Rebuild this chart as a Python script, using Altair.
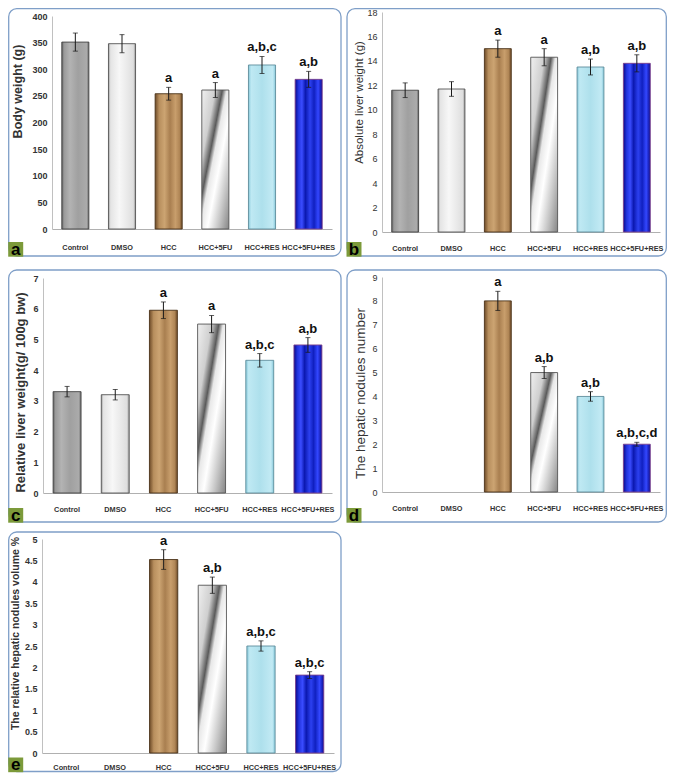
import altair as alt
import pandas as pd

categories = ["Control", "DMSO", "HCC", "HCC+5FU", "HCC+RES", "HCC+5FU+RES"]

body_weight = [351, 348, 254, 261, 308, 281]
body_weight_err = [17, 17, 12, 14, 16, 15]
body_weight_sig = ["", "", "a", "a", "a,b,c", "a,b"]
body_weight_ticks = [0, 50, 100, 150, 200, 250, 300, 350, 400]

abs_liver = [11.6, 11.7, 15.0, 14.3, 13.5, 13.8]
abs_liver_err = [0.6, 0.6, 0.7, 0.7, 0.65, 0.7]
abs_liver_sig = ["", "", "a", "a", "a,b", "a,b"]
abs_liver_ticks = [0, 2, 4, 6, 8, 10, 12, 14, 16, 18]

rel_liver = [3.3, 3.2, 5.95, 5.5, 4.32, 4.82]
rel_liver_err = [0.17, 0.17, 0.27, 0.28, 0.22, 0.24]
rel_liver_sig = ["", "", "a", "a", "a,b,c", "a,b"]
rel_liver_ticks = [0, 1, 2, 3, 4, 5, 6, 7]

nodules = [0, 0, 8.0, 5.0, 4.0, 2.0]
nodules_err = [0, 0, 0.4, 0.25, 0.2, 0.08]
nodules_sig = ["", "", "a", "a,b", "a,b", "a,b,c,d"]
nodules_ticks = [0, 1, 2, 3, 4, 5, 6, 7, 8, 9]

volume = [0, 0, 4.52, 3.92, 2.5, 1.82]
volume_err = [0, 0, 0.23, 0.19, 0.12, 0.08]
volume_sig = ["", "", "a", "a,b", "a,b,c", "a,b,c"]
volume_ticks = [0, 0.5, 1, 1.5, 2, 2.5, 3, 3.5, 4, 4.5, 5]

W, H = 659, 767
SANS = "Liberation Sans, Arial, sans-serif"
BOX_COLOR = "#7f9fc8"
LETTER_BG = "#7c9a3a"


def grad(stops, x1=0, y1=0, x2=1, y2=0):
    return {"gradient": "linear", "x1": x1, "y1": y1, "x2": x2, "y2": y2,
            "stops": [{"offset": o, "color": c} for o, c in stops]}


BAR_STYLE = {
    "Control": (grad([(0, "#5e5e5e"), (0.08, "#9a9a9a"), (0.3, "#b3b3b3"), (0.6, "#a0a0a0"),
                      (0.92, "#ababab"), (1, "#666666")]), "#444444"),
    "DMSO": (grad([(0, "#a0a0a0"), (0.08, "#e4e4e4"), (0.4, "#f7f7f7"), (0.7, "#e9e9e9"),
                   (0.92, "#dedede"), (1, "#939393")]), "#555555"),
    "HCC": (grad([(0, "#6e4b28"), (0.15, "#b88f5e"), (0.35, "#cca472"), (0.55, "#a97f50"),
                  (0.75, "#c89e6c"), (0.9, "#b08656"), (1, "#6e4b28")]), "#4a3218"),
    "HCC+5FU": (grad([(0, "#f0f0f0"), (0.25, "#cfcfcf"), (0.38, "#5a5a5a"), (0.46, "#e8e8e8"),
                      (0.6, "#ffffff"), (0.8, "#c4c4c4"), (1, "#858585")], 0, 0, 1, 1), "#555555"),
    "HCC+RES": (grad([(0, "#86c8da"), (0.1, "#bfe9f3"), (0.5, "#aee0ec"), (0.9, "#c2eaf4"),
                      (1, "#86c8da")]), "#5f8d9c"),
    "HCC+5FU+RES": (grad([(0, "#0a0a8a"), (0.12, "#2233dd"), (0.25, "#3a4cff"), (0.38, "#0b18b0"),
                          (0.55, "#2c40f0"), (0.7, "#1020c0"), (0.85, "#3347ff"), (1, "#0b0b90")]),
                    "#7b3f8c"),
}

# geometry in svg pixels: plot area (x0, x1, ytop, ybottom) and frame box (bx0, by0, bx1, by1)
PANELS = {
    "a": dict(title="Body weight (g)", values=body_weight, errs=body_weight_err, sigs=body_weight_sig,
              ticks=body_weight_ticks, plot=(44, 324, 8, 221), box=(0.7, 0.7, 333, 248),
              tsize=12.5, tbold=True, tx=-35, ty=83, xpad=14, lbold=True),
    "b": dict(title="Absolute liver weight (g)", values=abs_liver, errs=abs_liver_err, sigs=abs_liver_sig,
              ticks=abs_liver_ticks, plot=(374, 652, 4, 224), box=(339, 0.7, 658.3, 248),
              tsize=11.5, tbold=False, tx=-23, ty=94, xpad=12, lbold=False),
    "c": dict(title="Relative liver weight(g/ 100g bw)", values=rel_liver, errs=rel_liver_err,
              sigs=rel_liver_sig, ticks=rel_liver_ticks, plot=(35, 324, 270, 485), box=(0.7, 262, 333, 514),
              tsize=13, tbold=True, tx=-23, ty=384, xpad=12, lbold=True),
    "d": dict(title="The hepatic nodules number", values=nodules, errs=nodules_err, sigs=nodules_sig,
              ticks=nodules_ticks, plot=(374, 652, 269, 484), box=(339, 262, 658.3, 514),
              tsize=13.5, tbold=False, tx=-22, ty=385, xpad=12, lbold=False),
    "e": dict(title="The relative hepatic nodules volume %", values=volume, errs=volume_err,
              sigs=volume_sig, ticks=volume_ticks, plot=(34, 326, 531, 745), box=(0.7, 524, 333, 763.5),
              tsize=10.5, tbold=True, tx=-27, ty=625, xpad=10, lbold=True),
}


def panel(letter):
    p = PANELS[letter]
    x0, x1, yt, yb = p["plot"]
    bx0, by0, bx1, by1 = p["box"]
    df = pd.DataFrame({"cat": categories, "val": p["values"], "err": p["errs"], "sig": p["sigs"]})
    df["lo"] = df["val"] - df["err"]
    df["hi"] = df["val"] + df["err"]
    dfn = df[df["val"] > 0]
    dfs = df[df["sig"] != ""]

    xscale = alt.Scale(domain=categories, range=[x0, x1], paddingInner=0.42, paddingOuter=0.21)
    yscale = alt.Scale(domain=[p["ticks"][0], p["ticks"][-1]], range=[yb, yt], nice=False, zero=True)
    xaxis = alt.Axis(title=None, orient="bottom", offset=yb - H, labelAngle=0, labelFont=SANS,
                     labelFontSize=7.3, labelFontWeight="bold", labelColor="#333333",
                     labelPadding=p["xpad"], ticks=False, domainColor="#b0b0b0",
                     labelOverlap=False, grid=False)
    yaxis = alt.Axis(title=p["title"], orient="left", offset=-x0, values=p["ticks"], format="~f",
                     ticks=False, grid=False, domainColor="#c0c0c0", labelFont=SANS, labelFontSize=9,
                     labelFontWeight="bold" if p["lbold"] else "normal", labelColor="#333333",
                     labelPadding=5, titleFont=SANS, titleFontSize=p["tsize"],
                     titleFontWeight="bold" if p["tbold"] else "normal", titleColor="#333333",
                     titleX=p["tx"], titleY=p["ty"], titleBaseline="middle", titleAngle=270)

    def X():
        return alt.X("cat:N", scale=xscale, axis=xaxis)

    def Y(field):
        return alt.Y(field, scale=yscale, axis=yaxis)

    one = pd.DataFrame({"k": [0]})
    layers = [
        alt.Chart(one).mark_rect(fill="#ffffff", fillOpacity=0, stroke=BOX_COLOR, strokeWidth=1.3,
                                 cornerRadius=8).encode(
            x=alt.value(bx0), x2=alt.value(bx1), y=alt.value(by0), y2=alt.value(by1))
    ]
    for c in dfn["cat"]:
        fill, stroke = BAR_STYLE[c]
        layers.append(
            alt.Chart(dfn).transform_filter(alt.datum.cat == c)
            .mark_bar(fill=fill, stroke=stroke, strokeWidth=0.9)
            .encode(x=X(), y=Y("val:Q"))
        )
    layers.append(
        alt.Chart(dfn).mark_rule(color="#1a1a1a", strokeWidth=1).encode(
            x=X(), y=Y("lo:Q"), y2="hi:Q")
    )
    for f in ["lo:Q", "hi:Q"]:
        layers.append(
            alt.Chart(dfn).mark_tick(color="#1a1a1a", size=5, thickness=1).encode(x=X(), y=Y(f))
        )
    layers.append(
        alt.Chart(dfs).mark_text(font=SANS, fontSize=13, fontWeight="bold", baseline="alphabetic",
                                 dy=-5, color="#111111").encode(x=X(), y=Y("hi:Q"), text="sig:N")
    )
    layers.append(
        alt.Chart(one).mark_rect(fill=LETTER_BG).encode(
            x=alt.value(bx0 - 0.5), x2=alt.value(bx0 + 14.5), y=alt.value(by1 - 14), y2=alt.value(by1 + 0.7))
    )
    layers.append(
        alt.Chart(one).mark_text(text=letter, font=SANS, fontSize=17, fontWeight="bold",
                                 color="#000000", baseline="alphabetic", align="center").encode(
            x=alt.value(bx0 + 7), y=alt.value(by1 - 1.5))
    )
    return alt.layer(*layers)


chart = alt.layer(*[panel(k) for k in ["a", "b", "c", "d", "e"]]).resolve_scale(
    x="independent", y="independent"
).resolve_axis(
    x="independent", y="independent"
).properties(
    width=W, height=H, padding=0, background="white",
    autosize=alt.AutoSizeParams(type="none"),
).configure_view(stroke="transparent")

chart.save("out.html", embed_options={"renderer": "svg", "actions": False})
